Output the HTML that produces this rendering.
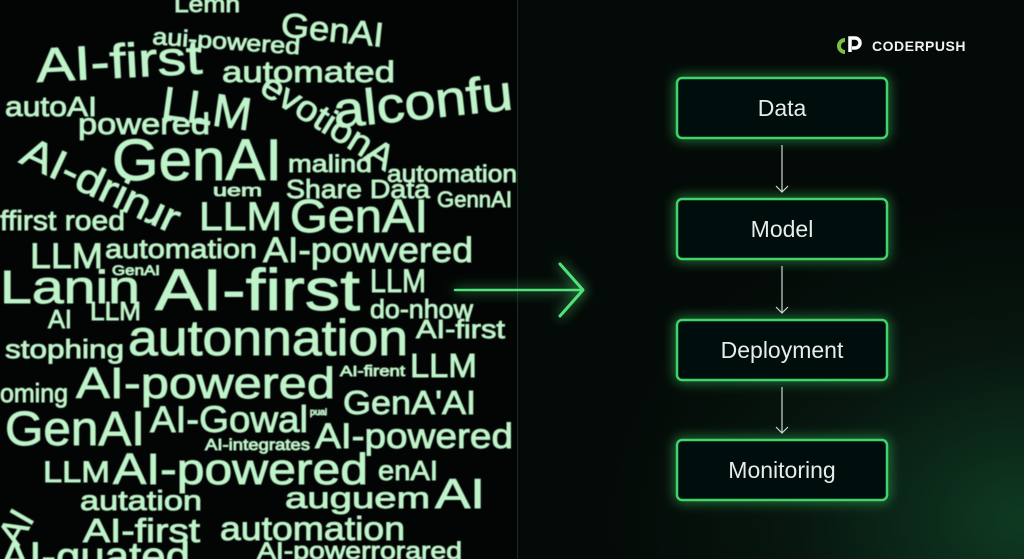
<!DOCTYPE html>
<html><head><meta charset="utf-8"><style>
html,body{margin:0;padding:0;background:#030806;}
#c{position:relative;width:1024px;height:559px;overflow:hidden;background:radial-gradient(ellipse 420px 320px at 1024px 520px,#0f3a22 0%,#07160f 55%,#040a07 100%);}
svg{position:absolute;left:0;top:0}
.w{font-family:"Liberation Sans",sans-serif;fill:#bff3c9;}
.b{font-family:"Liberation Sans",sans-serif;fill:#e6ece8;font-size:23px;}
</style></head><body><div id="c">
<svg width="1024" height="559" viewBox="0 0 1024 559">
<defs>
<filter id="g" x="-30%" y="-60%" width="160%" height="220%"><feGaussianBlur stdDeviation="6" result="b"/><feMerge><feMergeNode in="b"/><feMergeNode in="SourceGraphic"/></feMerge></filter>
<filter id="s"><feGaussianBlur stdDeviation="0.4"/></filter>
</defs>
<rect x="0" y="0" width="517" height="559" fill="#020504"/>
<line x1="517.5" y1="0" x2="517.5" y2="559" stroke="#1c2a22" stroke-width="1"/>
<g class="w" filter="url(#s)" stroke="#bff3c9" stroke-width="0.9" lengthAdjust="spacingAndGlyphs">
<text x="174" y="12" font-size="23" textLength="66" lengthAdjust="spacingAndGlyphs">Lemn</text>
<text x="152" y="44" font-size="23" transform="rotate(4 152 44)" textLength="148" lengthAdjust="spacingAndGlyphs">aui-powered</text>
<text x="280" y="36" font-size="34" transform="rotate(6 280 36)" textLength="103" lengthAdjust="spacingAndGlyphs">GenAI</text>
<text x="37" y="82" font-size="48" transform="rotate(-3 37 82)" textLength="166" lengthAdjust="spacingAndGlyphs">AI-first</text>
<text x="222" y="82" font-size="30" textLength="173" lengthAdjust="spacingAndGlyphs">automated</text>
<text x="160" y="118" font-size="46" transform="rotate(8 160 118)" textLength="90" lengthAdjust="spacingAndGlyphs">LLM</text>
<text x="258" y="92" font-size="36" transform="rotate(32 258 92)" textLength="150" lengthAdjust="spacingAndGlyphs">evotionA</text>
<text x="335" y="128" font-size="50" transform="rotate(-6 335 128)" textLength="180" lengthAdjust="spacingAndGlyphs">alconfu</text>
<text x="5" y="116" font-size="28" textLength="92" lengthAdjust="spacingAndGlyphs">autoAI</text>
<text x="78" y="134" font-size="30" textLength="132" lengthAdjust="spacingAndGlyphs">powered</text>
<text x="112" y="180" font-size="58" textLength="170" lengthAdjust="spacingAndGlyphs">GenAI</text>
<text x="18" y="162" font-size="42" transform="rotate(25 18 162)" textLength="170" lengthAdjust="spacingAndGlyphs">AI-drinɹr</text>
<text x="288" y="172" font-size="24" textLength="84" lengthAdjust="spacingAndGlyphs">malind</text>
<text x="286" y="198" font-size="26" textLength="144" lengthAdjust="spacingAndGlyphs">Share Data</text>
<text x="387" y="182" font-size="24" textLength="130" lengthAdjust="spacingAndGlyphs">automation</text>
<text x="437" y="207" font-size="22" textLength="75" lengthAdjust="spacingAndGlyphs">GennAI</text>
<text x="213" y="196" font-size="17" textLength="49" lengthAdjust="spacingAndGlyphs">uem</text>
<text x="0" y="230" font-size="28" textLength="125" lengthAdjust="spacingAndGlyphs">ffirst roed</text>
<text x="199" y="230" font-size="40" textLength="83" lengthAdjust="spacingAndGlyphs">LLM</text>
<text x="290" y="232" font-size="46" textLength="138" lengthAdjust="spacingAndGlyphs">GenAI</text>
<text x="30" y="268" font-size="35" textLength="73" lengthAdjust="spacingAndGlyphs">LLM</text>
<text x="105" y="258" font-size="27" textLength="152" lengthAdjust="spacingAndGlyphs">automation</text>
<text x="263" y="262" font-size="35" textLength="210" lengthAdjust="spacingAndGlyphs">AI-powvered</text>
<text x="112" y="275" font-size="14" textLength="48" lengthAdjust="spacingAndGlyphs">GenAI</text>
<text x="0" y="303" font-size="46" textLength="140" lengthAdjust="spacingAndGlyphs">Lanin</text>
<text x="155" y="310" font-size="58" textLength="205" lengthAdjust="spacingAndGlyphs">AI-first</text>
<text x="370" y="292" font-size="32" textLength="56" lengthAdjust="spacingAndGlyphs">LLM</text>
<text x="370" y="318" font-size="26" textLength="103" lengthAdjust="spacingAndGlyphs">do-nhow</text>
<text x="48" y="328" font-size="26" textLength="24" lengthAdjust="spacingAndGlyphs">AI</text>
<text x="90" y="320" font-size="26" textLength="51" lengthAdjust="spacingAndGlyphs">LLM</text>
<text x="5" y="358" font-size="26" textLength="119" lengthAdjust="spacingAndGlyphs">stophing</text>
<text x="128" y="355" font-size="50" textLength="280" lengthAdjust="spacingAndGlyphs">autonnation</text>
<text x="416" y="338" font-size="26" textLength="89" lengthAdjust="spacingAndGlyphs">AI-first</text>
<text x="340" y="376" font-size="15" textLength="65" lengthAdjust="spacingAndGlyphs">AI-firent</text>
<text x="410" y="377" font-size="33" textLength="67" lengthAdjust="spacingAndGlyphs">LLM</text>
<text x="0" y="402" font-size="26" textLength="68" lengthAdjust="spacingAndGlyphs">oming</text>
<text x="76" y="398" font-size="44" textLength="259" lengthAdjust="spacingAndGlyphs">AI-powered</text>
<text x="343" y="414" font-size="33" textLength="133" lengthAdjust="spacingAndGlyphs">GenA'AI</text>
<text x="5" y="445" font-size="48" textLength="140" lengthAdjust="spacingAndGlyphs">GenAI</text>
<text x="150" y="432" font-size="37" textLength="158" lengthAdjust="spacingAndGlyphs">AI-Gowal</text>
<text x="310" y="415" font-size="9">pual</text>
<text x="205" y="450" font-size="16" textLength="105" lengthAdjust="spacingAndGlyphs">AI-integrates</text>
<text x="315" y="448" font-size="35" textLength="198" lengthAdjust="spacingAndGlyphs">AI-powered</text>
<text x="43" y="482" font-size="30" textLength="67" lengthAdjust="spacingAndGlyphs">LLM</text>
<text x="113" y="484" font-size="44" textLength="255" lengthAdjust="spacingAndGlyphs">AI-powered</text>
<text x="378" y="480" font-size="28" textLength="60" lengthAdjust="spacingAndGlyphs">enAI</text>
<text x="80" y="510" font-size="28" textLength="122" lengthAdjust="spacingAndGlyphs">autation</text>
<text x="285" y="508" font-size="30" textLength="145" lengthAdjust="spacingAndGlyphs">auguem</text>
<text x="435" y="508" font-size="42" textLength="50" lengthAdjust="spacingAndGlyphs">AI</text>
<text x="83" y="542" font-size="33" textLength="117" lengthAdjust="spacingAndGlyphs">AI-first</text>
<text x="220" y="540" font-size="33" textLength="185" lengthAdjust="spacingAndGlyphs">automation</text>
<text x="257" y="559" font-size="24" textLength="205" lengthAdjust="spacingAndGlyphs">AI-powerrorared</text>
<text x="0" y="570" font-size="40" textLength="190" lengthAdjust="spacingAndGlyphs">AI-quated</text>
<text x="18" y="548" font-size="36" transform="rotate(-60 18 548)">AI</text>
</g>
<g filter="url(#g)" stroke="#4fe37a" fill="none" stroke-linecap="round" stroke-linejoin="round">
<line x1="455" y1="290" x2="580" y2="290" stroke-width="2.5"/>
<polyline points="560,264 583,290 560,316" stroke-width="3"/>
</g>
<g filter="url(#g)" fill="#06110b" stroke="#3fd36a" stroke-width="2.5">
<rect x="677" y="78" width="210" height="60" rx="5"/>
<rect x="677" y="199" width="210" height="60" rx="5"/>
<rect x="677" y="320" width="210" height="60" rx="5"/>
<rect x="677" y="440" width="210" height="60" rx="5"/>
</g>
<text class="b" x="782" y="116" text-anchor="middle">Data</text>
<text class="b" x="782" y="237" text-anchor="middle">Model</text>
<text class="b" x="782" y="358" text-anchor="middle">Deployment</text>
<text class="b" x="782" y="478" text-anchor="middle">Monitoring</text>
<g stroke="#cfd6d2" stroke-width="1.2" fill="none">
<line x1="782" y1="145" x2="782" y2="192"/><polyline points="776,186 782,192 788,186"/>
<line x1="782" y1="266" x2="782" y2="313"/><polyline points="776,307 782,313 788,307"/>
<line x1="782" y1="387" x2="782" y2="433"/><polyline points="776,427 782,433 788,427"/>
</g>
<path d="M845 40 a6 6 0 1 0 0 12" stroke="#7cc242" stroke-width="4" fill="none"/>
<path d="M850 52 V38 h5 a5 5 0 0 1 0 10 h-3" stroke="#ffffff" stroke-width="3.5" fill="none"/>
<text x="872" y="51" font-family="Liberation Sans,sans-serif" font-weight="bold" font-size="14" fill="#f2f2f2" letter-spacing="0.5">CODERPUSH</text>
</svg>
</div></body></html>
